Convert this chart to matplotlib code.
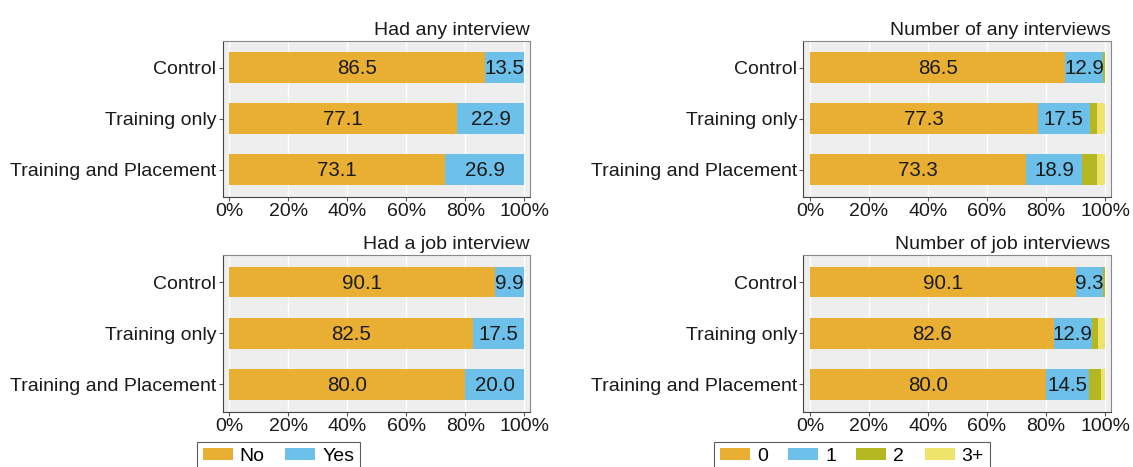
import matplotlib
matplotlib.use("Agg")
import matplotlib.pyplot as plt
import numpy as np

plt.rcParams['font.family'] = ['Liberation Sans', 'DejaVu Sans']

groups = ["Control", "Training only", "Training and Placement"]

# Binary outcomes (%)
any_no = [86.5, 77.1, 73.1]
any_yes = [13.5, 22.9, 26.9]
job_no = [90.1, 82.5, 80.0]
job_yes = [9.9, 17.5, 20.0]

# Count outcomes (%)
nany_0 = [86.5, 77.3, 73.3]
nany_1 = [12.9, 17.5, 18.9]
nany_2 = [0.4, 2.6, 5.1]
nany_3 = [0.2, 2.6, 2.7]
njob_0 = [90.1, 82.6, 80.0]
njob_1 = [9.3, 12.9, 14.5]
njob_2 = [0.4, 2.1, 4.2]
njob_3 = [0.2, 2.4, 1.3]

titles = ["Had any interview", "Number of any interviews",
          "Had a job interview", "Number of job interviews"]
bin_labels = ["No", "Yes"]
cnt_labels = ["0", "1", "2", "3+"]
xticks = [0, 20, 40, 60, 80, 100]
xticklabels = ["0%", "20%", "40%", "60%", "80%", "100%"]

C_ORANGE = "#E9AF33"
C_BLUE = "#6DC0EA"
C_OLIVE = "#B4B622"
C_YELLOW = "#EEE46C"

FS = 14.0
FS_VAL = 14.8
W, H = 1133, 467
fig = plt.figure(figsize=(W / 100, H / 100), dpi=100)

def frac(x0, x1, ytop, ybot):
    return [x0 / W, 1 - ybot / H, (x1 - x0) / W, (ybot - ytop) / H]

positions = [
    frac(222.7, 530.0, 40.7, 196.7),
    frac(803.3, 1110.7, 40.7, 196.7),
    frac(222.7, 530.0, 255.0, 411.5),
    frac(803.3, 1110.7, 255.0, 411.5),
]

panels = [
    ([any_no, any_yes], [C_ORANGE, C_BLUE], bin_labels),
    ([nany_0, nany_1, nany_2, nany_3], [C_ORANGE, C_BLUE, C_OLIVE, C_YELLOW], cnt_labels),
    ([job_no, job_yes], [C_ORANGE, C_BLUE], bin_labels),
    ([njob_0, njob_1, njob_2, njob_3], [C_ORANGE, C_BLUE, C_OLIVE, C_YELLOW], cnt_labels),
]

for i, (pos, (series, colors, labels)) in enumerate(zip(positions, panels)):
    ax = fig.add_axes(pos)
    ax.set_facecolor("#EEEEEE")
    y = np.arange(len(groups))
    left = np.zeros(len(groups))
    for k, (vals, col, lab) in enumerate(zip(series, colors, labels)):
        vals = np.array(vals)
        ax.barh(y, vals, left=left, height=0.6, color=col, label=lab, zorder=3)
        if k < 2:
            for yi, (l, v) in enumerate(zip(left, vals)):
                ax.text(l + v / 2, yi + 0.02, f"{v:.1f}", ha="center", va="center",
                        fontsize=FS_VAL, color="#1a1a1a", zorder=4)
        left = left + vals
    ax.set_xlim(-2.25, 101.9)
    ax.set_ylim(2.53, -0.53)
    ax.set_yticks(y)
    ax.set_yticklabels(groups, fontsize=FS, color="#1a1a1a")
    ax.set_xticks(xticks)
    ax.set_xticklabels(xticklabels, fontsize=FS, color="#1a1a1a")
    ax.grid(axis="x", color="white", lw=1.0, zorder=0)
    ax.set_axisbelow(True)
    ax.tick_params(axis="both", length=3, width=0.8, color="#555555", pad=1.5)
    for s in ax.spines.values():
        s.set_color("#888888")
        s.set_linewidth(0.8)
    ax.spines["left"].set_color("#444444")
    ax.spines["bottom"].set_color("#444444")
    ax.set_title(titles[i], loc="right", fontsize=FS, color="#1a1a1a", pad=4)

    if i >= 2:
        handles, labs = ax.get_legend_handles_labels()
        if i == 2:
            anchor = (197 / W, 1 - 442 / H)
        else:
            anchor = (714 / W, 1 - 442 / H)
        leg = fig.legend(handles, labs, loc="upper left", bbox_to_anchor=anchor,
                         ncol=len(labs), fontsize=FS, frameon=True, fancybox=False,
                         edgecolor="#333333", handlelength=1.55, handleheight=0.6,
                         columnspacing=1.05, handletextpad=0.35, borderpad=0.3,
                         borderaxespad=0)
        leg.get_frame().set_linewidth(0.8)

fig.savefig("out.png", dpi=100)
